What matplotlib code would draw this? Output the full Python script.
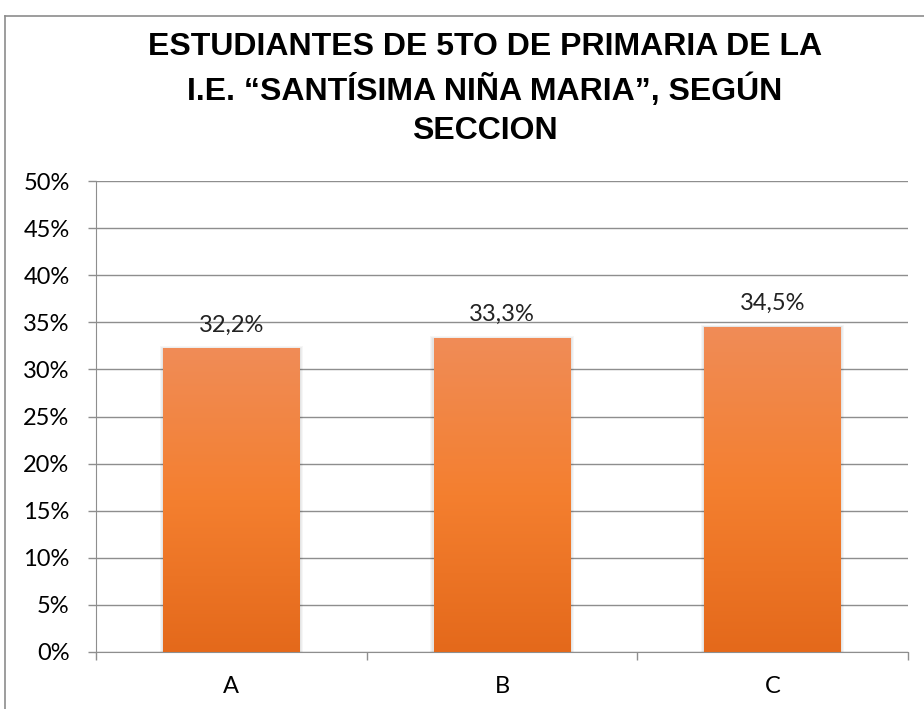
import matplotlib
matplotlib.use("Agg")
import matplotlib.pyplot as plt
import numpy as np
from matplotlib.colors import LinearSegmentedColormap
from matplotlib.patches import Rectangle
from matplotlib.ticker import FuncFormatter, MultipleLocator

categories = ["A", "B", "C"]
values = [32.2, 33.3, 34.5]
labels = ["32,2%", "33,3%", "34,5%"]
title = "ESTUDIANTES DE 5TO DE PRIMARIA DE LA\nI.E. \u201cSANT\u00cdSIMA NI\u00d1A MARIA\u201d, SEG\u00daN\nSECCION"

W, H = 924, 709
fig = plt.figure(figsize=(W / 100, H / 100), dpi=100)
fig.patch.set_facecolor("white")

# outer frame (cut at right/bottom)
fig.add_artist(plt.Line2D([5 / W, 5 / W], [0, 1 - 16 / H], transform=fig.transFigure, color="#8c8c8c", lw=1.2))
fig.add_artist(plt.Line2D([5 / W, 1], [1 - 16 / H, 1 - 16 / H], transform=fig.transFigure, color="#8c8c8c", lw=1.2))

left, right = 96 / W, 908 / W
bottom, top = 1 - 652 / H, 1 - 181 / H
ax = fig.add_axes([left, bottom, right - left, top - bottom])
ax.set_xlim(-0.5, 2.5)
ax.set_ylim(0, 50)

fam = ["Lato", "DejaVu Sans"]
ax.yaxis.set_major_locator(MultipleLocator(5))
ax.yaxis.set_major_formatter(FuncFormatter(lambda v, p: f"{int(round(v))}%"))
ax.grid(axis="y", color="#8e8e8e", lw=1.0)
ax.set_axisbelow(True)
for s in ["top", "right"]:
    ax.spines[s].set_visible(False)
ax.spines["left"].set_color("#8e8e8e")
ax.spines["bottom"].set_color("#8e8e8e")

ax.set_xticks([0, 1, 2])
ax.set_xticklabels(categories)
ax.set_xticks([-0.5, 0.5, 1.5, 2.5], minor=True)
ax.tick_params(axis="x", which="major", length=0, pad=17, labelsize=17)
ax.tick_params(axis="x", which="minor", length=6, color="#8e8e8e", width=1)
ax.tick_params(axis="y", length=6, color="#8e8e8e", width=1, pad=13, labelsize=17)
for t in ax.get_xticklabels() + ax.get_yticklabels():
    t.set_fontfamily(fam)

cmap = LinearSegmentedColormap.from_list("orng", ["#e4691b", "#f47f2f", "#f08c57"])
grad = np.linspace(0, 1, 256).reshape(-1, 1)
bw = 0.506
bars = ax.bar(range(len(categories)), values, width=bw, color="none", edgecolor="none", zorder=3)
for b, lab in zip(bars, labels):
    x0, y0, w, h = b.get_x(), b.get_y(), b.get_width(), b.get_height()
    # soft shadow
    for k in range(3):
        d = 0.004 * (k + 1)
        ax.add_patch(Rectangle((x0 - d, y0), w + 2 * d, h + 0.08 * (k + 1), color="black", alpha=0.035, lw=0, zorder=2))
    ax.imshow(grad, extent=[x0, x0 + w, y0, y0 + h], origin="lower", cmap=cmap, aspect="auto", zorder=4)
    ax.text(x0 + w / 2, h + 1.4, lab, ha="center", va="bottom", fontsize=17, family=fam, color="#222222", zorder=5)
ax.set_xlim(-0.5, 2.5)
ax.set_ylim(0, 50)

fig.text(485 / W, 1 - 32 / H, title, ha="center", va="top", fontsize=23, fontweight="bold",
         family=["Liberation Sans Narrow", "Liberation Sans", "DejaVu Sans"], linespacing=1.42)

fig.savefig("out.png", dpi=100, facecolor="white")
